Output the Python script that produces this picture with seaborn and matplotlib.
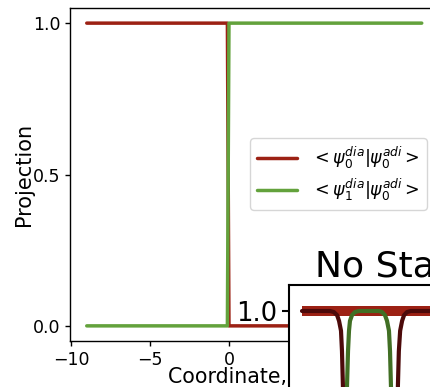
import matplotlib
matplotlib.use("Agg")
import matplotlib.pyplot as plt
import seaborn as sns

# Main panel: projections of diabatic states onto the adiabatic ground state
coord = [-9.0, -0.1, 0.0, 12.2]
proj_g0 = [1.0, 1.0, 0.0, 0.0]
proj_g1 = [0.0, 0.0, 1.0, 1.0]
legend_labels = [r"$<\psi_0^{dia}|\psi_0^{adi}>$", r"$<\psi_1^{dia}|\psi_0^{adi}>$"]

# Inset: populations without stabilization
inset_title = "No Stabilization"
band_t = [0.0, 52.0]
band_p = [1.0, 1.0]
dark_t = [0.0, 4.3, 4.9, 5.4, 5.7, 6.0, 6.15, 6.3, 6.5, 7.0,
          14.2, 14.6, 14.75, 14.9, 15.1, 15.4, 15.7, 16.15, 16.75, 52.0]
dark_p = [1.0, 1.0, 0.998, 0.992, 0.981, 0.962, 0.923, 0.854, 0.6, 0.0,
          0.0, 0.6, 0.854, 0.923, 0.962, 0.981, 0.992, 0.998, 1.0, 1.0]
green_t = [0.0, 6.5, 6.77, 6.92, 7.08, 7.23, 7.38, 7.69, 8.15, 8.77,
           11.85, 12.31, 12.77, 13.08, 13.38, 13.54, 13.69, 13.85, 14.1, 52.0]
green_p = [0.0, 0.0, 0.71, 0.854, 0.923, 0.962, 0.981, 0.992, 0.998, 1.0,
           1.0, 0.998, 0.992, 0.981, 0.962, 0.923, 0.854, 0.71, 0.0, 0.0]

RED = "#9c2114"
GREEN = "#63a23c"
DARK_RED = "#4c0a0a"
DARK_GREEN = "#416f24"

sns.set_style("ticks", rc={"text.color": "black", "axes.labelcolor": "black",
                           "xtick.color": "black", "ytick.color": "black",
                           "axes.edgecolor": "black"})
plt.rcParams["font.family"] = ["DejaVu Sans"]

W, H = 431, 387
fig = plt.figure(figsize=(W / 100, H / 100), dpi=100)

ax_w, ax_h = 368.5, 333
ax = fig.add_axes([70 / W, 1 - 341 / H, ax_w / W, ax_h / H])
sns.lineplot(x=coord, y=proj_g0, ax=ax, color=RED, lw=2.5, label=legend_labels[0])
sns.lineplot(x=coord, y=proj_g1, ax=ax, color=GREEN, lw=2.5, label=legend_labels[1])
ax.set_xlabel("Coordinate, a.u.", fontsize=14.8)
ax.xaxis.set_label_coords((250 - 70) / ax_w, -(367 - 341) / ax_h)
ax.set_ylabel("Projection", fontsize=15, labelpad=-1)
ax.set_yticks([0.0, 0.5, 1.0])
ax.tick_params(labelsize=12.5, width=1.0)
for s in ax.spines.values():
    s.set_linewidth(1.0)
ax.legend(loc="center right", bbox_to_anchor=(427 / W, 1 - 174 / H),
          bbox_transform=fig.transFigure, borderaxespad=0, fontsize=12.6,
          labelspacing=0.3, handlelength=2.3)

inset_w = 335
axin = fig.add_axes([289 / W, 1 - 857 / H, inset_w / W, 572 / H])
axin.set_facecolor("white")
sns.lineplot(x=band_t, y=band_p, ax=axin, color=RED, lw=7.2, solid_capstyle="butt")
sns.lineplot(x=dark_t, y=dark_p, ax=axin, color=DARK_RED, lw=3.0, solid_joinstyle="round")
sns.lineplot(x=green_t, y=green_p, ax=axin, color=DARK_GREEN, lw=3.0, solid_joinstyle="round")
axin.set_xlim(-2.0, -2.0 + inset_w / 6.5)
axin.set_ylim(-0.05, 1.05)
axin.set_title(inset_title, fontsize=26)
axin.tick_params(labelsize=18.6, length=5, width=1.5)
for s in axin.spines.values():
    s.set_linewidth(1.5)

fig.savefig("out.png", dpi=100)
